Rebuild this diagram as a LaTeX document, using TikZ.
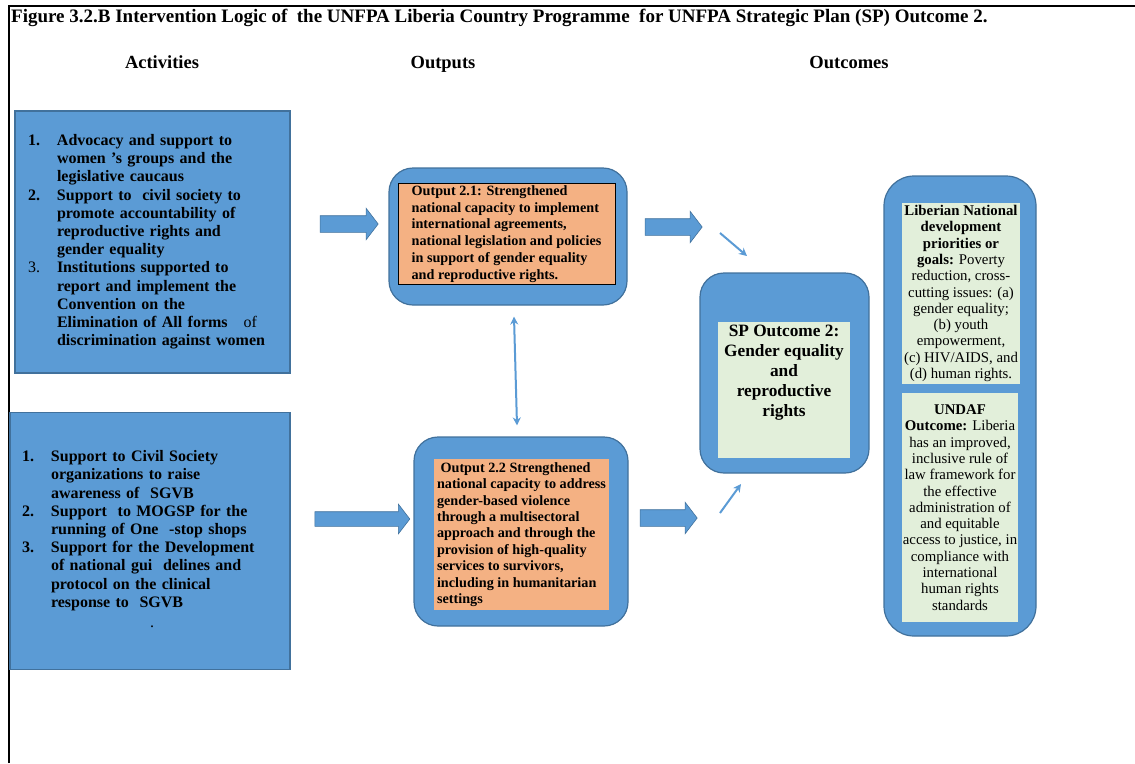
\documentclass[tikz,border=0pt]{standalone}
\usepackage{fontspec}
\setmainfont{Liberation Serif}
\usepackage{tikz}
\usetikzlibrary{arrows.meta,shapes.arrows,positioning}

\definecolor{boxblue}{HTML}{5B9BD5}
\definecolor{boxedge}{HTML}{41719C}
\definecolor{paneorange}{HTML}{F4B183}
\definecolor{panegreen}{HTML}{E2EFDA}

\tikzset{
  actbox/.style={rectangle, fill=boxblue, draw=boxedge, line width=1.2pt,
    align=left, inner ysep=0pt},
  outbox/.style={rectangle, rounded corners=24pt, fill=boxblue, draw=boxedge, line width=1.2pt},
  orangepane/.style={rectangle, fill=paneorange, inner sep=0pt, align=left, font=\bfseries},
  greenpane/.style={rectangle, fill=panegreen, inner sep=0pt, align=center},
  blockarrow/.style={single arrow, fill=boxblue, draw=boxedge, line width=0.6pt,
    single arrow head extend=7.5pt, single arrow tip angle=105, inner xsep=0pt, inner ysep=8pt},
  thinarrow/.style={draw=boxblue, line width=2pt, -{Stealth[length=8pt,width=8pt]}},
  heading/.style={font=\fontsize{18.5}{20}\selectfont\bfseries, anchor=base}
}

\begin{document}
\begin{tikzpicture}[x=1pt,y=-1pt]
\useasboundingbox (0,0) rectangle (1135,763);
\draw[line width=1.5pt] (9,763) -- (9,6) -- (1135,6);

% title and column heads
\node[anchor=west, font=\fontsize{19}{20}\selectfont\bfseries, inner sep=0pt] (title) at (11,18)
  {Figure 3.2.B Intervention Logic of\ \ the UNFPA Liberia Country Programme\ \ for UNFPA Strategic Plan (SP) Outcome 2.};
\node[heading] (hact) at (162,68) {Activities};
\node[heading] (hout) at (443,68) {Outputs};
\node[heading] (hoc) at (849,68) {Outcomes};

% activities
\node[actbox, minimum width=275pt, minimum height=262pt, text width=249pt, inner xsep=13pt,
  font=\fontsize{16}{18.2}\selectfont\bfseries] (act1) at (152.5,242) {%
  \begin{tabular}{@{}p{29pt}@{}l@{}}
  1. & Advocacy and support to\\
     & women ’s groups and the\\
     & legislative caucaus\\
  2. & Support to\ \ civil society to\\
     & promote accountability of\\
     & reproductive rights and\\
     & gender equality\\
  \textmd{3.} & Institutions supported to\\
     & report and implement the\\
     & Convention on the\\
     & Elimination of All forms\quad\textmd{of}\\
     & discrimination against women
  \end{tabular}};
\node[actbox, minimum width=280pt, minimum height=257pt, text width=256pt, inner xsep=12pt,
  font=\fontsize{16}{18.2}\selectfont\bfseries] (act2) at (150,541) {%
  \begin{tabular}{@{}p{29pt}@{}l@{}}
  1. & Support to Civil Society\\
     & organizations to raise\\
     & awareness of\ \ SGVB\\
  2. & Support\ \ to MOGSP for the\\
     & running of One\ \ -stop shops\\
  3. & Support for the Development\\
     & of national gui\ \ delines and\\
     & protocol on the clinical\\
     & response to\ \ SGVB\\[2pt]
     & \hspace{99pt}\textmd{.}
  \end{tabular}};

% outputs
\node[outbox, minimum width=238pt, minimum height=137pt] (out1) at (508,236.5) {};
\node[orangepane, draw=black, line width=0.8pt, minimum width=217pt, minimum height=101pt,
  font=\fontsize{14.2}{16.8}\selectfont\bfseries] (pane1) at (506.5,234) {%
  Output 2.1: Strengthened\\
  national capacity to implement\\
  international agreements,\\
  national legislation and policies\\
  in support of gender equality\\
  and reproductive rights.};
\node[outbox, minimum width=214pt, minimum height=189pt] (out2) at (521,531.5) {};
\node[orangepane, minimum width=175pt, minimum height=151pt,
  font=\fontsize{14.2}{16.4}\selectfont\bfseries] (pane2) at (521.5,534.5) {%
  \ Output 2.2 Strengthened\\
  national capacity to address\\
  gender-based violence\\
  through a multisectoral\\
  approach and through the\\
  provision of high-quality\\
  services to survivors,\\
  including in humanitarian\\
  settings};

% outcomes
\node[outbox, minimum width=169pt, minimum height=200pt] (sp) at (784.5,373) {};
\node[greenpane, font=\fontsize{17.3}{20}\selectfont\bfseries] (sppane) at (784,390) {%
  \parbox[c][136pt][t]{132pt}{\centering\vspace{3pt}
  SP Outcome 2:\\ Gender equality\\ and\\ reproductive\\ rights}};
\node[outbox, rounded corners=30pt, minimum width=152pt, minimum height=460pt] (natl) at (960,406) {};
\node[greenpane, minimum width=118pt, minimum height=181pt,
  font=\fontsize{14.8}{16.3}\selectfont] (goals) at (961,293.5) {%
  \textbf{Liberian National}\\
  \textbf{development}\\
  \textbf{priorities or}\\
  \textbf{goals:} Poverty\\
  reduction, cross-\\
  cutting issues: (a)\\
  gender equality;\\
  (b) youth\\
  empowerment,\\
  (c) HIV/AIDS, and\\
  (d) human rights.};
\node[greenpane, minimum width=116pt, minimum height=229pt,
  font=\fontsize{14.8}{16.3}\selectfont] (undaf) at (960,507.5) {%
  \textbf{UNDAF}\\
  \textbf{Outcome:} Liberia\\
  has an improved,\\
  inclusive rule of\\
  law framework for\\
  the effective\\
  administration of\\
  and equitable\\
  access to justice, in\\
  compliance with\\
  international\\
  human rights\\
  standards};

% block arrows
\node[blockarrow, minimum height=58pt] (ar1) at (346,224) {};
\node[blockarrow, minimum height=57pt] (ar2) at (670.5,227) {};
\node[blockarrow, minimum height=95pt, inner ysep=7pt] (ar3) at (359.5,519) {};
\node[blockarrow, minimum height=57pt] (ar4) at (665.5,518) {};

% thin arrows
\coordinate (d1s) at (720,233);
\coordinate (d1e) at (747,256);
\coordinate (d2s) at (720,513);
\coordinate (d2e) at (741,484);
\draw[thinarrow] (d1s) -- (d1e);
\draw[thinarrow] (d2s) -- (d2e);
\draw[thinarrow, {Stealth[length=8pt,width=8pt]}-{Stealth[length=8pt,width=8pt]}]
  ([xshift=6pt,yshift=-11pt]out1.south) -- ([xshift=-4pt,yshift=11pt]out2.north);
\end{tikzpicture}
\end{document}
